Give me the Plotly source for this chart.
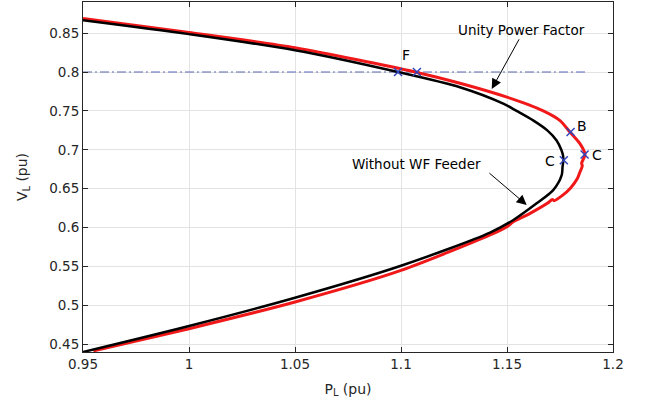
import plotly.graph_objects as go

# Black curve: without WF feeder (upper branch -> nose -> lower branch)
black_p = [0.950, 1.000, 1.050, 1.0986, 1.1278, 1.1485, 1.1545, 1.1625, 1.1690, 1.1734, 1.1756,
           1.1764, 1.1766, 1.1762, 1.1758, 1.1718, 1.164, 1.153, 1.142, 1.100, 1.050, 1.000, 0.950]
black_v = [0.8666, 0.8487, 0.828, 0.800, 0.7804, 0.759, 0.750, 0.7375, 0.725, 0.712, 0.700,
           0.693, 0.6865, 0.678, 0.6673, 0.6481, 0.6311, 0.6097, 0.5935, 0.5509, 0.5098, 0.4735, 0.4400]

# Red curve: unity power factor
red_p = [0.950, 1.000, 1.050, 1.1066, 1.1278, 1.150, 1.1671, 1.1750, 1.1797, 1.1844, 1.1868,
         1.1862, 1.1852, 1.1855, 1.1845, 1.1832, 1.1800, 1.1760, 1.1722, 1.1714, 1.1692,
         1.1609, 1.1530, 1.1524, 1.1500, 1.142, 1.100, 1.050, 1.000, 0.9549]
red_v = [0.8687, 0.8508, 0.8312, 0.800, 0.7855, 0.7676, 0.750, 0.7375, 0.7228, 0.7079, 0.6942,
         0.6890, 0.6830, 0.6790, 0.6720, 0.6630, 0.6510, 0.6410, 0.6345, 0.6362, 0.6315,
         0.6183, 0.6076, 0.6064, 0.6012, 0.5905, 0.5449, 0.5043, 0.4700, 0.4414]

# Marked operating points
mark_p = [1.0986, 1.1075, 1.1800, 1.1866, 1.1768]
mark_v = [0.800, 0.800, 0.7228, 0.694, 0.6865]
label_text = ["F", "B", "C", "C"]
label_p = [1.1025, 1.1855, 1.1925, 1.1705]
label_v = [0.822, 0.731, 0.693, 0.685]

ref_v = 0.8
ref_p = [0.95, 1.187]

x_ticks = [0.95, 1.0, 1.05, 1.1, 1.15, 1.2]
x_ticktext = ["0.95", "1", "1.05", "1.1", "1.15", "1.2"]
y_ticks = [0.45, 0.5, 0.55, 0.6, 0.65, 0.7, 0.75, 0.8, 0.85]
y_ticktext = ["0.45", "0.5", "0.55", "0.6", "0.65", "0.7", "0.75", "0.8", "0.85"]

FONT = "DejaVu Sans, Liberation Sans, Arial, sans-serif"
TXT = "#262626"

fig = go.Figure()
fig.add_trace(go.Scatter(x=ref_p, y=[ref_v, ref_v], mode="lines",
                         line=dict(color="#5d68b2", width=1, dash="9px,3px,2px,3px"),
                         showlegend=False, hoverinfo="skip"))
fig.add_trace(go.Scatter(x=red_p, y=red_v, mode="lines",
                         line=dict(color="#f01818", width=3, shape="spline", smoothing=0.7),
                         showlegend=False))
fig.add_trace(go.Scatter(x=black_p, y=black_v, mode="lines",
                         line=dict(color="#000000", width=2.5, shape="spline", smoothing=0.8),
                         showlegend=False))
fig.add_trace(go.Scatter(x=mark_p, y=mark_v, mode="markers",
                         marker=dict(symbol="x-thin", size=8,
                                     line=dict(color="#3344bb", width=1.5)),
                         showlegend=False))

for t, px, py in zip(label_text, label_p, label_v):
    fig.add_annotation(x=px, y=py, text=t, showarrow=False,
                       font=dict(family=FONT, size=14, color="#000000"))

fig.add_annotation(x=1.157, y=0.8546, text="Unity Power Factor", showarrow=False,
                   font=dict(family=FONT, size=13.5, color="#000000"))
fig.add_annotation(x=1.1075, y=0.682, text="Without WF Feeder", showarrow=False,
                   font=dict(family=FONT, size=13.5, color="#000000"))

fig.add_annotation(x=1.1428, y=0.7783, ax=1.1561, ay=0.844, axref="x", ayref="y",
                   xref="x", yref="y", text="", showarrow=True,
                   arrowhead=2, arrowsize=2, arrowwidth=1, arrowcolor="#000000")
fig.add_annotation(x=1.1593, y=0.629, ax=1.141, ay=0.6716, axref="x", ayref="y",
                   xref="x", yref="y", text="", showarrow=True,
                   arrowhead=2, arrowsize=2, arrowwidth=1, arrowcolor="#000000")

axis_common = dict(showline=True, linecolor=TXT, linewidth=1, mirror="ticks",
                   ticks="inside", ticklen=5, tickcolor=TXT, showgrid=True,
                   gridcolor="#e3e3e3", gridwidth=1, zeroline=False,
                   tickfont=dict(family=FONT, size=13.5, color=TXT))

fig.update_xaxes(range=[0.95, 1.2], tickvals=x_ticks, ticktext=x_ticktext,
                 title=dict(text="P<sub>L</sub> (pu)", font=dict(family=FONT, size=14, color=TXT),
                            standoff=12),
                 **axis_common)
fig.update_yaxes(range=[0.44, 0.89], tickvals=y_ticks, ticktext=y_ticktext,
                 title=dict(text="V<sub>L</sub> (pu)", font=dict(family=FONT, size=14, color=TXT),
                            standoff=18),
                 **axis_common)

fig.update_layout(width=646, height=406,
                  margin=dict(l=83, r=33, t=2, b=54, autoexpand=False),
                  plot_bgcolor="white", paper_bgcolor="white",
                  font=dict(family=FONT, color=TXT))

fig.write_html("out.html", config={"displayModeBar": False},
               post_script="document.body.style.margin='0px';document.body.style.overflow='hidden';")
